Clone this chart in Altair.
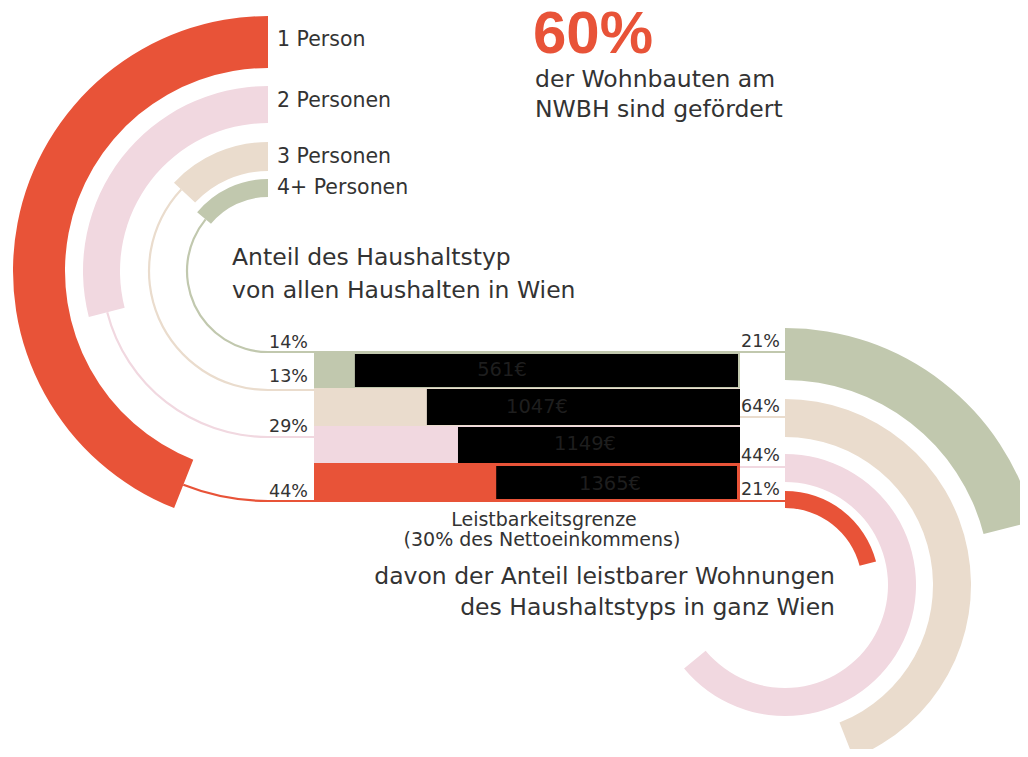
import math
import altair as alt
import pandas as pd

# ---------------- data ----------------
households = ["1 Person", "2 Personen", "3 Personen", "4+ Personen"]
share_all = [44, 29, 13, 14]                 # Anteil des Haushaltstyps (left arcs, %)
share_all_labels = ["44%", "29%", "13%", "14%"]
share_affordable_arcs = [21, 64, 44, 21]     # right arcs as drawn (%)
share_affordable_labels = ["21%", "44%", "64%", "21%"]
limit_labels = ["1365€", "1149€", "1047€", "561€"]
bar_split = [0.423, 0.338, 0.265, 0.096]     # coloured part of each bar (fraction)
colors = ["#E85338", "#F1D8E0", "#EADCCD", "#C1C8AE"]
headline = "60%"
headline_lines = ["der Wohnbauten am", "NWBH sind gefördert"]
left_title = ["Anteil des Haushaltstyp", "von allen Haushalten in Wien"]
limit_title = ["Leistbarkeitsgrenze", "(30% des Nettoeinkommens)"]
right_title = ["davon der Anteil leistbarer Wohnungen", "des Haushaltstyps in ganz Wien"]

# ---------------- layout (page pixels) ----------------
FONT = "DejaVu Sans"
TXT = "#333333"
LC = (268, 271)                     # centre of left rings
RC = (785, 585)                     # centre of right rings
left_r = [(203, 255), (148, 185), (100, 129), (74, 92)]
left_line_r = [230, 166, 119, 81]
right_r = [(77, 94), (103, 131), (148, 186), (205, 257)]
right_line_y = [500, 467, 417, 352]
BAR_X0, BAR_X1 = 314, 740
row_y = [(463, 502), (426, 463), (388, 426), (352, 388)]
black_inset = [(3, 3, 2, 3), (1, 0, 0, 0), (1, 1, 0, 0), (2, 1, 0, 2)]  # top,bottom,left,right
limit_text_pos = [(610, 490), (585, 450), (537, 413), (502, 376)]
left_pct_pos = [(308, 497), (308, 432), (308, 382), (308, 348)]
right_pct_pos = [(741, 495), (741, 461), (741, 412), (741, 347)]
legend_pos = [(277, 46), (277, 107), (277, 163), (277, 194)]

W, H = 1012, 741
xs = alt.Scale(domain=[8, 8 + W], range=[0, W], zero=False, nice=False)
ys = alt.Scale(domain=[8, 8 + H], range=[0, H], zero=False, nice=False)
ts = alt.Scale(domain=[0, 100], range=[0, 2 * math.pi], zero=False, nice=False)
rs = alt.Scale(type="linear", domain=[0, 300], range=[0, 300], zero=True, nice=False)


def X(f):
    return alt.X(f"{f}:Q", scale=xs, axis=None)


def Y(f):
    return alt.Y(f"{f}:Q", scale=ys, axis=None)


def arc_layer(rows):
    df = pd.DataFrame(rows, columns=["x", "y", "t0", "t1", "r0", "r1", "c"])
    return alt.Chart(df).mark_arc(strokeWidth=0).encode(
        x=X("x"), y=Y("y"),
        theta=alt.Theta("t0:Q", scale=ts, stack=False),
        theta2=alt.Theta2("t1:Q"),
        radius=alt.Radius("r0:Q", scale=rs),
        radius2=alt.Radius2("r1:Q"),
        color=alt.Color("c:N", scale=None),
    )


def rect_layer(rows):
    df = pd.DataFrame(rows, columns=["x0", "x1", "y0", "y1", "c"])
    return alt.Chart(df).mark_rect(strokeWidth=0).encode(
        x=X("x0"), x2="x1", y=Y("y0"), y2="y1",
        color=alt.Color("c:N", scale=None),
    )


def rule_layer(rows, width=2):
    df = pd.DataFrame(rows, columns=["x0", "x1", "y", "c"])
    return alt.Chart(df).mark_rule(strokeWidth=width).encode(
        x=X("x0"), x2="x1", y=Y("y"),
        color=alt.Color("c:N", scale=None),
    )


def text_layer(rows, size, color=TXT, align="left", weight="normal", font=FONT):
    df = pd.DataFrame(rows, columns=["label", "x", "y"])
    return alt.Chart(df).mark_text(
        align=align, baseline="alphabetic", fontSize=size, color=color,
        fontWeight=weight, font=font,
    ).encode(x=X("x"), y=Y("y"), text="label:N")


layers = []

# left rings (counter-clockwise from 12 o'clock) + thin continuation to the bottom
layers.append(arc_layer([
    (LC[0], LC[1], 100 - s, 100, r[0], r[1], c)
    for s, r, c in zip(share_all, left_r, colors)
]))
layers.append(arc_layer([
    (LC[0], LC[1], 50, 100 - s, lr - 1.1, lr + 1.1, c)
    for s, lr, c in zip(share_all, left_line_r, colors)
]))

# horizontal connectors
conn = []
for i, (lr, c) in enumerate(zip(left_line_r, colors)):
    y = LC[1] + lr
    if i in (0, 3):
        conn.append((LC[0], RC[0], y, c))
    else:
        conn.append((LC[0], BAR_X0, y, c))
for i in (1, 2):
    conn.append((BAR_X1, RC[0], right_line_y[i], colors[i]))
layers.append(rule_layer(conn, 2.2))

# bars
layers.append(rect_layer([
    (BAR_X0, BAR_X1, y0, y1, c) for (y0, y1), c in zip(row_y, colors)
]))
blk = []
for sp, (y0, y1), (it, ib, il, ir) in zip(bar_split, row_y, black_inset):
    xs0 = BAR_X0 + sp * (BAR_X1 - BAR_X0)
    blk.append((xs0 + il, BAR_X1 - ir, y0 + it, y1 - ib, "#000000"))
layers.append(rect_layer(blk))
layers.append(text_layer(
    [(t, p[0], p[1]) for t, p in zip(limit_labels, limit_text_pos)],
    19.5, color="#1e1e1e", align="center"))

# right rings (clockwise from 12 o'clock)
layers.append(arc_layer([
    (RC[0], RC[1], 0, s, r[0], r[1], c)
    for s, r, c in zip(share_affordable_arcs, right_r, colors)
]))

# percentage labels
layers.append(text_layer(
    [(t, p[0], p[1]) for t, p in zip(share_all_labels, left_pct_pos)], 17.5, align="right"))
layers.append(text_layer(
    [(t, p[0], p[1]) for t, p in zip(share_affordable_labels, right_pct_pos)], 17.5, align="left"))

# legend labels
layers.append(text_layer(
    [(t, p[0], p[1]) for t, p in zip(households, legend_pos)], 20.5))

# headline
layers.append(text_layer([(headline, 533, 53)], 60, color=colors[0], weight="bold",
                         font="Liberation Sans"))
layers.append(text_layer([(headline_lines[0], 535, 87), (headline_lines[1], 535, 117)], 23.5))

# titles
layers.append(text_layer([(left_title[0], 232, 265), (left_title[1], 232, 298)], 23.5))
layers.append(text_layer([(limit_title[0], 544, 526), (limit_title[1], 542, 546)], 19,
                         align="center"))
layers.append(text_layer([(right_title[0], 835, 584), (right_title[1], 835, 615)], 23.5,
                         align="right"))

chart = alt.layer(*layers).properties(
    width=W, height=H,
    autosize=alt.AutoSizeParams(type="none"),
    padding=0,
    background="white",
).configure_view(stroke=None)

chart.save("out.html", embed_options={"renderer": "svg", "actions": False})
